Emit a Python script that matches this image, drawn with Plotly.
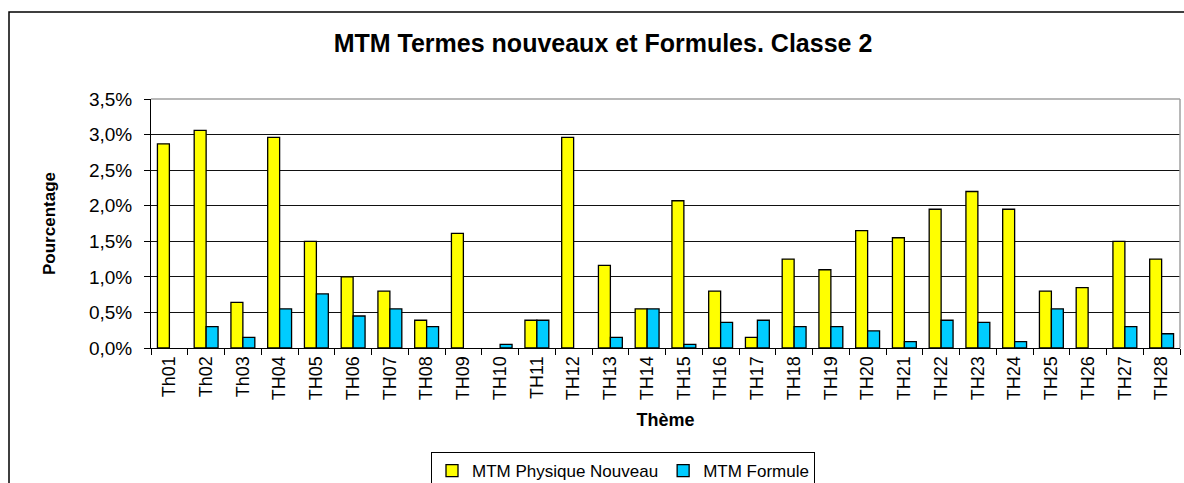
import plotly.graph_objects as go

# Themes and percentages (in %); None where a theme has no value
themes = ["Th01", "Th02", "Th03", "TH04", "TH05", "TH06", "TH07", "TH08", "TH09", "TH10",
          "TH11", "TH12", "TH13", "TH14", "TH15", "TH16", "TH17", "TH18", "TH19", "TH20",
          "TH21", "TH22", "TH23", "TH24", "TH25", "TH26", "TH27", "TH28"]
physique_nouveau = [2.87, 3.06, 0.64, 2.96, 1.50, 1.00, 0.80, 0.39, 1.61, None,
                    0.39, 2.96, 1.16, 0.55, 2.07, 0.80, 0.15, 1.25, 1.10, 1.65,
                    1.55, 1.95, 2.20, 1.95, 0.80, 0.85, 1.50, 1.25]
formule = [None, 0.30, 0.15, 0.55, 0.76, 0.45, 0.55, 0.30, None, 0.05,
           0.39, None, 0.15, 0.55, 0.05, 0.36, 0.39, 0.30, 0.30, 0.24,
           0.09, 0.39, 0.36, 0.09, 0.55, None, 0.30, 0.20]
y_ticks = [0, 0.5, 1.0, 1.5, 2.0, 2.5, 3.0, 3.5]
y_tick_labels = [f"{v:.1f}%".replace(".", ",") for v in y_ticks]

FONT = "Liberation Sans, Arial, sans-serif"

fig = go.Figure()
fig.add_trace(go.Bar(x=themes, y=physique_nouveau, name="MTM Physique Nouveau",
                     marker=dict(color="#FFFF00", line=dict(color="#000000", width=1.3))))
fig.add_trace(go.Bar(x=themes, y=formule, name="MTM Formule",
                     marker=dict(color="#00CCFF", line=dict(color="#000000", width=1.3))))

W, H = 1184, 483
ml, mr, mt, mb = 151, 4, 99, 135
pw, ph = W - ml - mr, H - mt - mb

def px_x(px):
    return (px - ml) / pw

def px_y(py):
    return (H - mb - py) / ph

fig.update_layout(
    width=W, height=H,
    margin=dict(l=ml, r=mr, t=mt, b=mb, pad=0, autoexpand=False),
    paper_bgcolor="white", plot_bgcolor="white",
    barmode="group", bargap=0.35, bargroupgap=0.0,
    font=dict(family=FONT, color="black"),
    title=dict(text="<b>MTM Termes nouveaux et Formules. Classe 2</b>",
               x=px_x(603), xanchor="center", xref="paper",
               y=1 - 43 / H, yanchor="middle",
               font=dict(size=25, family=FONT)),
    xaxis=dict(
        type="category", tickangle=-90, tickson="boundaries",
        ticks="outside", ticklen=6, tickcolor="black", tickwidth=1,
        showline=True, linecolor="black", linewidth=1,
        showgrid=False, tickfont=dict(size=18), automargin=False,
        title=dict(text="<b>Thème</b>", font=dict(size=18), standoff=14),
    ),
    yaxis=dict(
        range=[0, 3.5], tickvals=y_ticks, ticktext=y_tick_labels,
        ticks="outside", ticklen=6, tickcolor="black", tickwidth=1,
        ticklabelstandoff=8,
        showline=True, linecolor="black", linewidth=1,
        showgrid=True, gridcolor="#111111", gridwidth=1,
        zeroline=False, tickfont=dict(size=19), automargin=False,
        title=dict(text="<b>Pourcentage</b>", font=dict(size=17), standoff=28),
    ),
    legend=dict(
        orientation="h", x=px_x(623), xanchor="center",
        yref="container", y=1 - 452 / H, yanchor="top",
        bordercolor="black", borderwidth=1, bgcolor="white",
        font=dict(size=17), itemwidth=30, tracegroupgap=0,
    ),
    shapes=[
        # outer chart frame
        dict(type="rect", xref="paper", yref="paper",
             x0=px_x(9), x1=px_x(W + 20), y0=px_y(H + 20), y1=px_y(12),
             line=dict(color="black", width=1.5), fillcolor="rgba(0,0,0,0)", layer="below"),
        # light plot border at top and right
        dict(type="line", xref="paper", yref="paper", x0=0, x1=1, y0=1, y1=1,
             line=dict(color="#A0A0A0", width=1.5), layer="above"),
        dict(type="line", xref="paper", yref="paper", x0=1, x1=1, y0=0, y1=1,
             line=dict(color="#A0A0A0", width=1.5), layer="above"),
    ],
)

fig.write_html("out.html")
